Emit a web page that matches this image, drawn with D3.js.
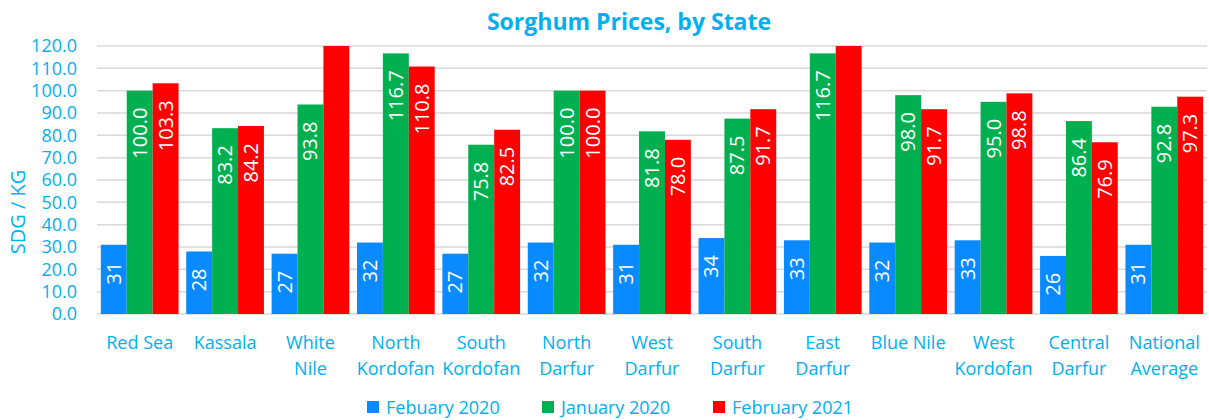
<!DOCTYPE html>
<html>
<head>
<meta charset="utf-8">
<script src="https://cdn.jsdelivr.net/npm/d3@7"></script>
<style>
  body { margin: 0; background: #fff; }
  text { font-family: 'Open Sans', Lato, sans-serif; }
</style>
</head>
<body>
<div id="chart"></div>
<script>
const states = [
  ['Red Sea'], ['Kassala'], ['White', 'Nile'], ['North', 'Kordofan'], ['South', 'Kordofan'],
  ['North', 'Darfur'], ['West', 'Darfur'], ['South', 'Darfur'], ['East', 'Darfur'], ['Blue Nile'],
  ['West', 'Kordofan'], ['Central', 'Darfur'], ['National', 'Average']
];
const feb2020 = [31, 28, 27, 32, 27, 32, 31, 34, 33, 32, 33, 26, 31];
const jan2020 = [100.0, 83.2, 93.8, 116.7, 75.8, 100.0, 81.8, 87.5, 116.7, 98.0, 95.0, 86.4, 92.8];
// White Nile and East Darfur go past the top of the axis in the picture
const feb2021 = [103.3, 84.2, 125, 110.8, 82.5, 100.0, 78.0, 91.7, 125, 91.7, 98.8, 76.9, 97.3];
const seriesNames = ['Febuary 2020', 'January 2020', 'February 2021'];
const seriesColors = ['#0A8AFF', '#00B050', '#FF0000'];
const yTicks = d3.range(0, 121, 10);

const W = 1209, H = 420;
const margin = { left: 97, right: 2, top: 46, bottom: 106 };
const width = W - margin.left - margin.right;
const height = H - margin.top - margin.bottom;
const textColor = '#00B0F0';

const svg = d3.select('#chart').append('svg').attr('width', W).attr('height', H);
const g = svg.append('g').attr('transform', 'translate(' + margin.left + ',' + margin.top + ')');

const x0 = d3.scaleBand().domain(d3.range(states.length)).range([0, width])
  .paddingInner(0.09).paddingOuter(0.045);
const x1 = d3.scaleBand().domain([0, 1, 2]).range([0, x0.bandwidth()]);
const y = d3.scaleLinear().domain([0, 120]).range([height, 0]);

// Gridlines
g.append('g').selectAll('line').data(yTicks).join('line')
  .attr('x1', 0).attr('x2', width)
  .attr('y1', d => y(d)).attr('y2', d => y(d))
  .attr('stroke', '#d9d9d9').attr('stroke-width', 1.5);

// Y axis labels
const yAxis = g.append('g').call(d3.axisLeft(y).tickValues(yTicks).tickFormat(d3.format('.1f')).tickSize(0).tickPadding(20));
yAxis.select('.domain').remove();
yAxis.selectAll('text').attr('fill', textColor).style('font-size', '18px').style('font-family', "'Open Sans', sans-serif");

// Title + axis title
svg.append('text').attr('x', 629).attr('y', 30).attr('text-anchor', 'middle')
  .attr('fill', textColor).style('font-size', '23px').style('font-weight', 'bold')
  .text('Sorghum Prices, by State');
svg.append('text').attr('transform', 'translate(25,' + 212 + ') rotate(-90)')
  .attr('text-anchor', 'middle').attr('fill', textColor).style('font-size', '20px')
  .text('SDG / KG');

// Bars
svg.append('clipPath').attr('id', 'plotclip').append('rect')
  .attr('x', 0).attr('y', 0).attr('width', width).attr('height', height);

const series = [feb2020, jan2020, feb2021];
const rows = states.map((s, i) => ({ i, vals: series.map(a => a[i]) }));
const groups = g.append('g').attr('clip-path', 'url(#plotclip)')
  .selectAll('g').data(rows).join('g')
  .attr('transform', d => 'translate(' + x0(d.i) + ',0)');

groups.selectAll('rect').data(d => d.vals).join('rect')
  .attr('x', (d, j) => x1(j))
  .attr('width', x1.bandwidth())
  .attr('y', d => y(d))
  .attr('height', d => height - y(d))
  .attr('fill', (d, j) => seriesColors[j]);

// Value labels (rotated, inside end)
const fmtInt = d3.format('.0f'), fmt1 = d3.format('.1f');
groups.selectAll('text').data(d => d.vals.map((v, j) => ({ v, j })).filter(e => e.v <= 120)).join('text')
  .attr('transform', e => 'translate(' + (x1(e.j) + x1.bandwidth() / 2 + 7) + ',' + (y(e.v) + 17) + ') rotate(-90)')
  .attr('text-anchor', 'end')
  .attr('fill', '#fff')
  .style('font-size', '20px')
  .text(e => e.j === 0 ? fmtInt(e.v) : fmt1(e.v));

// Category labels
const cat = g.append('g').selectAll('text').data(states).join('text')
  .attr('text-anchor', 'middle')
  .attr('fill', textColor)
  .style('font-size', '18px')
  .attr('transform', (d, i) => 'translate(' + (x0(i) + x0.bandwidth() / 2) + ',' + (height + 35) + ')');
cat.selectAll('tspan').data(d => d).join('tspan')
  .attr('x', 0).attr('dy', (d, k) => k === 0 ? 0 : 26).text(d => d);

// Legend
const legX = [367, 542, 713];
const leg = svg.append('g').selectAll('g').data(seriesNames).join('g')
  .attr('transform', (d, j) => 'translate(' + legX[j] + ',401)');
leg.append('rect').attr('width', 12).attr('height', 12).attr('fill', (d, j) => seriesColors[j]);
leg.append('text').attr('x', 19).attr('y', 13).attr('fill', textColor).style('font-size', '18px').text(d => d);
</script>
</body>
</html>
